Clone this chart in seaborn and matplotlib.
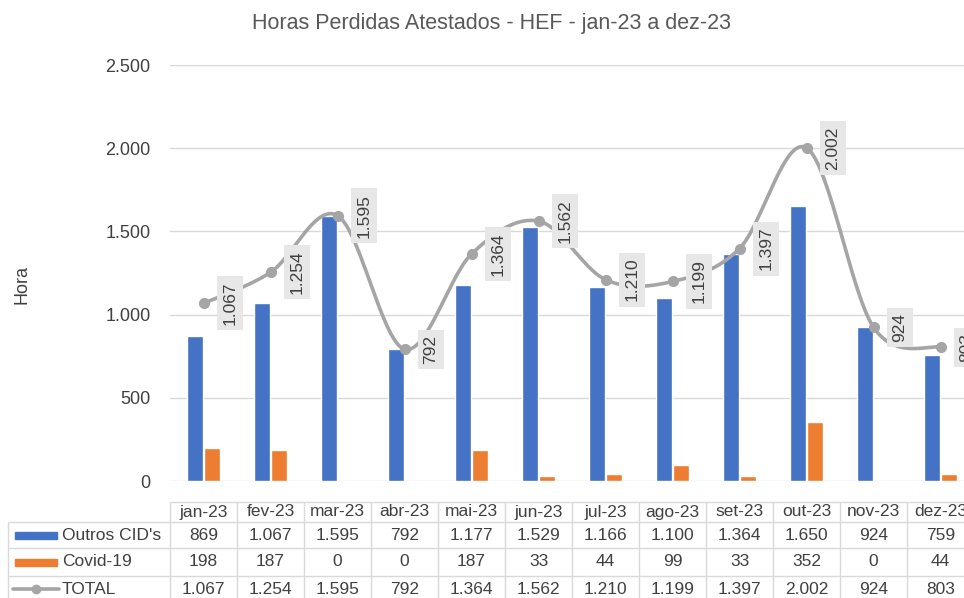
import numpy as np
import pandas as pd
import seaborn as sns
import matplotlib.pyplot as plt
from matplotlib.ticker import FuncFormatter

# Data
months = ["jan-23", "fev-23", "mar-23", "abr-23", "mai-23", "jun-23",
          "jul-23", "ago-23", "set-23", "out-23", "nov-23", "dez-23"]
outros = [869, 1067, 1595, 792, 1177, 1529, 1166, 1100, 1364, 1650, 924, 759]
covid = [198, 187, 0, 0, 187, 33, 44, 99, 33, 352, 0, 44]
total = [1067, 1254, 1595, 792, 1364, 1562, 1210, 1199, 1397, 2002, 924, 803]

series_names = ["Outros CID's", "Covid-19"]
colors = {"Outros CID's": "#4472C4", "Covid-19": "#ED7D31"}
line_color = "#A5A5A5"
text_color = "#404040"

df = pd.DataFrame({
    "mes": months * 2,
    "serie": [series_names[0]] * len(months) + [series_names[1]] * len(months),
    "horas": outros + covid,
})


def fmt(v):
    return f"{v:,.0f}".replace(",", ".")


def smooth(x, y, n=40):
    # Bezier smoothing similar to the spreadsheet "smoothed line"
    pts = np.column_stack([x, y]).astype(float)
    out = []
    for i in range(len(pts) - 1):
        p0 = pts[max(i - 1, 0)]
        p1 = pts[i]
        p2 = pts[i + 1]
        p3 = pts[min(i + 2, len(pts) - 1)]
        c1 = p1 + (p2 - p0) / 6
        c2 = p2 - (p3 - p1) / 6
        t = np.linspace(0, 1, n)[:, None]
        seg = (1 - t) ** 3 * p1 + 3 * (1 - t) ** 2 * t * c1 + 3 * (1 - t) * t ** 2 * c2 + t ** 3 * p2
        out.append(seg if i == 0 else seg[1:])
    return np.vstack(out)


sns.set_style("white")
plt.rcParams["font.family"] = ["Liberation Sans", "DejaVu Sans"]

W, H = 964, 598
fig = plt.figure(figsize=(W / 100, H / 100), dpi=100)

# main plot area in pixels: x 170..974, y 65..481
px0, px1, py_top, py_bot = 170, 974, 65, 481
ax = fig.add_axes([px0 / W, 1 - py_bot / H, (px1 - px0) / W, (py_bot - py_top) / H])

sns.barplot(data=df, x="mes", y="horas", hue="serie", palette=colors,
            width=0.5, gap=0.06, legend=False, ax=ax, saturation=1, zorder=2)

xs = np.arange(len(months))
curve = smooth(xs, total)
ax.plot(curve[:, 0], curve[:, 1], color=line_color, lw=2.6, zorder=3,
        solid_capstyle="round")
ax.plot(xs, total, "o", color=line_color, ms=7, zorder=4)

for i, v in enumerate(total):
    ax.annotate(fmt(v), xy=(i, v), xytext=(19, 0), textcoords="offset points",
                rotation=90, ha="center", va="center", fontsize=12.5,
                color=text_color, zorder=5, annotation_clip=False,
                bbox=dict(boxstyle="square,pad=0.3", fc="#E7E7E7", ec="none"))

ax.set_xlim(-0.5, len(months) - 0.5)
ax.set_ylim(0, 2500)
ax.set_yticks([0, 500, 1000, 1500, 2000, 2500])
ax.yaxis.set_major_formatter(FuncFormatter(lambda v, p: fmt(v)))
ax.grid(axis="y", color="#D9D9D9", lw=1, zorder=0)
ax.set_axisbelow(True)
for s in ax.spines.values():
    s.set_visible(False)
ax.tick_params(axis="y", length=0, pad=14, labelsize=13, labelcolor=text_color)
ax.set_xticks([])
ax.set_xlabel("")
ax.set_ylabel("Hora", fontsize=13, color=text_color)
ax.yaxis.set_label_coords((30 - px0) / (px1 - px0), (py_bot - 285) / (py_bot - py_top))

fig.text(492 / W, 1 - 23 / H, "Horas Perdidas Atestados - HEF - jan-23 a dez-23",
         ha="center", va="center", fontsize=15.5, color="#595959")

# data table below the chart
col_w = (px1 - px0) / len(months)
left_px = 8
row_edges = [502, 522, 548, 576, 604]
tab = fig.add_axes([left_px / W, 1 - row_edges[-1] / H, (px1 - left_px) / W,
                    (row_edges[-1] - row_edges[0]) / H])
x_left = -0.5 - (px0 - left_px) / col_w
tab.set_xlim(x_left, len(months) - 0.5)
tab.set_ylim(row_edges[-1], row_edges[0])
tab.axis("off")

gc = "#D9D9D9"
tab.hlines(row_edges[0], -0.5, len(months) - 0.5, color=gc, lw=1, clip_on=False)
tab.hlines(row_edges[1:-1], x_left, len(months) - 0.5, color=gc, lw=1, clip_on=False)
tab.vlines(np.arange(len(months) + 1) - 0.5, row_edges[0], row_edges[-1], color=gc, lw=1, clip_on=False)
tab.vlines(x_left, row_edges[1], row_edges[-1], color=gc, lw=1, clip_on=False)

mid = [(a + b) / 2 for a, b in zip(row_edges[:-1], row_edges[1:])]
mid[-1] = 589
fs = 12.5
for i, m in enumerate(months):
    tab.text(i, mid[0], m, ha="center", va="center", fontsize=fs, color=text_color)
for r, vals in enumerate([outros, covid, total], start=1):
    for i, v in enumerate(vals):
        tab.text(i, mid[r], fmt(v), ha="center", va="center", fontsize=fs, color=text_color)


def px2x(p):
    return -0.5 + (p - px0) / col_w


labels = ["Outros CID's", "Covid-19", "TOTAL"]
for r, lab in enumerate(labels, start=1):
    tab.text(px2x(62), mid[r], lab, ha="left", va="center", fontsize=fs, color=text_color)
for r, name in enumerate(series_names, start=1):
    tab.add_patch(plt.Rectangle((px2x(15), mid[r] - 3.5), px2x(57) - px2x(15), 7,
                                color=colors[name], clip_on=False))
tab.plot([px2x(13), px2x(59)], [mid[3], mid[3]], color=line_color, lw=2.6,
         solid_capstyle="round", clip_on=False)
tab.plot([px2x(36)], [mid[3]], "o", color=line_color, ms=6, clip_on=False)

fig.savefig("out.png", dpi=100, facecolor="white")
